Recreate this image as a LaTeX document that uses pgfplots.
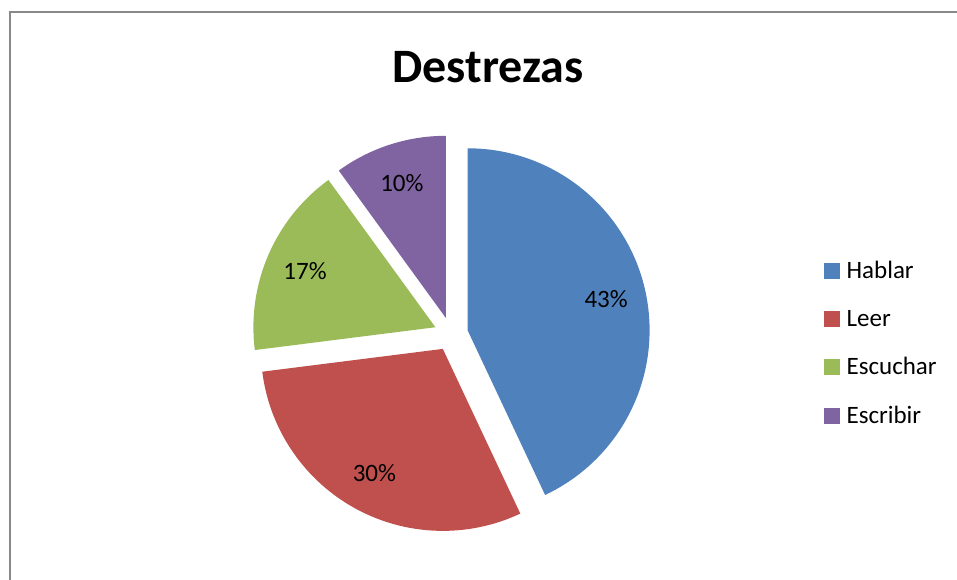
\documentclass[border=0pt]{standalone}
\usepackage{pgfplots}
\pgfplotsset{compat=1.18}
\usepackage{pgfplotstable}
\usepackage{fontspec}
\setmainfont{Carlito}
\definecolor{hablar}{HTML}{4F81BD}
\definecolor{leer}{HTML}{C0504D}
\definecolor{escuchar}{HTML}{9BBB59}
\definecolor{escribir}{HTML}{8064A2}
\definecolor{frame}{HTML}{898989}

% share of each skill, in percent
\pgfplotstableread{
label value color
Hablar 43 hablar
Leer 30 leer
Escuchar 17 escuchar
Escribir 10 escribir
}\piedata

\begin{document}
\begin{tikzpicture}
\begin{axis}[
    x=1pt, y=1pt, scale only axis,
    xmin=0, xmax=957, ymin=0, ymax=580,
    hide axis, clip=false,
    legend cell align=left,
    legend style={at={(axis cs:821,323)}, anchor=north west, draw=none,
        font=\fontsize{25}{30}\selectfont, row sep=26pt,
        /tikz/every odd column/.append style={column sep=5pt}},
    legend image code/.code={\fill[#1] (0pt,-7.5pt) rectangle (15pt,7.5pt);},
]
% chart frame
\draw[frame, line width=2pt] (axis cs:10,-10) -- (axis cs:10,568) -- (axis cs:970,568);
\node[font=\fontsize{48}{54}\bfseries] at (axis cs:488,513) {Destrezas};

\pgfplotstablegetrowsof{\piedata}
\pgfmathtruncatemacro\nrows{\pgfplotsretval-1}
\def\angstart{90}
\pgfplotsforeachungrouped \i in {0,...,\nrows}{
    \pgfplotstablegetelem{\i}{value}\of\piedata \let\v\pgfplotsretval
    \pgfplotstablegetelem{\i}{color}\of\piedata \let\c\pgfplotsretval
    \pgfmathsetmacro\angend{\angstart-3.6*\v}
    \pgfmathsetmacro\mid{(\angstart+\angend)/2}
    \pgfmathsetmacro\vx{451+17*cos(\mid)}
    \pgfmathsetmacro\vy{246+17*sin(\mid)}
    \pgfmathsetmacro\lx{\vx+142*cos(\mid)}
    \pgfmathsetmacro\ly{\vy+142*sin(\mid)}
    \edef\temp{%
      \noexpand\fill[\c] (axis cs:\vx,\vy) -- ++(\angstart:182pt)
        arc[start angle=\angstart, end angle=\angend, radius=182pt] -- cycle;
      \noexpand\node[font=\noexpand\fontsize{25}{30}\noexpand\selectfont]
        at (axis cs:\lx,\ly) {\v\noexpand\%};
    }
    \temp
    \global\let\angstart\angend
}

\addlegendimage{hablar}\addlegendentry{Hablar}
\addlegendimage{leer}\addlegendentry{Leer}
\addlegendimage{escuchar}\addlegendentry{Escuchar}
\addlegendimage{escribir}\addlegendentry{Escribir}
\end{axis}
\pgfresetboundingbox
\useasboundingbox (0,0) rectangle (957pt,580pt);
\end{tikzpicture}
\end{document}
